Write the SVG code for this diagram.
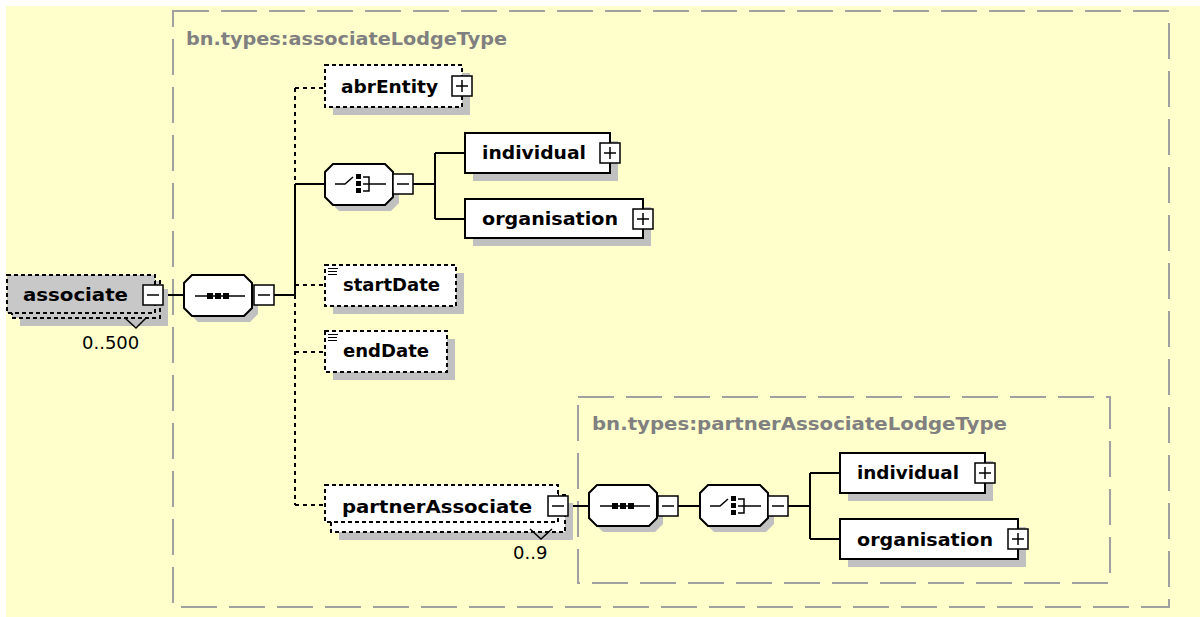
<svg xmlns="http://www.w3.org/2000/svg" width="1200" height="617" viewBox="0 0 1200 617">
<style>
.frame{fill:none;stroke:#A0A0A0;stroke-width:2;stroke-dasharray:36 12}
.title{font-family:"DejaVu Sans",sans-serif;font-weight:bold;font-size:18px;fill:#808080}
.lbl{font-family:"DejaVu Sans",sans-serif;font-weight:bold;font-size:18px;fill:#000}
.occ{font-family:"DejaVu Sans",sans-serif;font-size:18px;fill:#000}
.box{fill:#fff;stroke:#000;stroke-width:2}
.obox{fill:#fff;stroke:#000;stroke-width:2;stroke-dasharray:4 3}
.gbox{fill:#C8C8C8;stroke:#000;stroke-width:2;stroke-dasharray:4 3}
.shadow{fill:#C0C0C0}
.pm{fill:#fff;stroke:#000;stroke-width:1.5}
.pl{stroke:#000;stroke-width:1.5;fill:none}
.ln{stroke:#000;stroke-width:2;fill:none}
.dl{stroke:#000;stroke-width:2;fill:none;stroke-dasharray:4 4}
.oct{fill:#fff;stroke:#000;stroke-width:2}
.ico{fill:#000}
</style>
<defs>
<g id="minus"><rect class="pm" x="0" y="0" width="20" height="20"/><path class="pl" d="M4 10H16"/></g>
<g id="plus"><rect class="pm" x="0" y="0" width="20" height="20"/><path class="pl" d="M4 10H16M10 4V16"/></g>
<path id="octS" d="M8 0H60L68 8V33L60 41H8L0 33V8Z"/>
</defs>
<rect x="0" y="0" width="1200" height="617" fill="#fff"/>
<rect x="6" y="6" width="1194" height="611" fill="#FFFFCC"/>

<g id="frames">
<rect class="frame" x="173" y="11" width="996" height="596"/>
<text class="title" x="186" y="45" textLength="321" lengthAdjust="spacingAndGlyphs">bn.types:associateLodgeType</text>
<rect class="frame" x="578" y="397" width="532" height="186"/>
<text class="title" x="592" y="430" textLength="415" lengthAdjust="spacingAndGlyphs">bn.types:partnerAssociateLodgeType</text>
</g>

<g id="connectors">
<path class="ln" d="M163 295H184"/>
<path class="ln" d="M273 295H295"/>
<path class="dl" d="M295 88V184"/>
<path class="ln" d="M295 184V295"/>
<path class="dl" d="M295 295V505"/>
<path class="dl" d="M295 88H325"/>
<path class="ln" d="M295 184H325"/>
<path class="dl" d="M295 285H325"/>
<path class="dl" d="M295 352H325"/>
<path class="dl" d="M295 505H325"/>
<path class="ln" d="M413 184H435M435 153V219M435 153H465M435 219H465"/>
<path class="ln" d="M568 506H589"/>
<path class="ln" d="M678 506H700"/>
<path class="ln" d="M788 506H810M810 473V539M810 473H840M810 539H840"/>
</g>

<g id="associate">
<rect class="shadow" x="20" y="289" width="148" height="37"/>
<rect class="gbox" x="12" y="281" width="148" height="37"/>
<rect class="gbox" x="7" y="275" width="148" height="38"/>
<text class="lbl" x="23" y="301" textLength="105" lengthAdjust="spacingAndGlyphs">associate</text>
<use href="#minus" x="143" y="285"/>
<path class="pl" d="M125 318L136 328L146 318"/>
<text class="occ" x="82" y="349">0..500</text>
</g>

<g id="sequence1">
<use href="#octS" x="190" y="281" class="shadow"/>
<use href="#octS" x="184" y="275" class="oct"/>
<path class="pl" d="M195 296H245"/>
<rect class="ico" x="207" y="293" width="6" height="6"/>
<rect class="ico" x="215" y="293" width="6" height="6"/>
<rect class="ico" x="223" y="293" width="6" height="6"/>
<use href="#minus" x="254" y="285"/>
</g>

<g id="abrEntity">
<rect class="shadow" x="333" y="73" width="137" height="42"/>
<rect class="obox" x="325" y="65" width="137" height="42"/>
<text class="lbl" x="341" y="93" textLength="97" lengthAdjust="spacingAndGlyphs">abrEntity</text>
<use href="#plus" x="452" y="76"/>
</g>

<g id="choice1">
<use href="#octS" x="331" y="170" class="shadow"/>
<use href="#octS" x="325" y="164" class="oct"/>
<path class="pl" d="M335 184H345L353 177"/>
<rect class="ico" x="356" y="174" width="5" height="5"/>
<rect class="ico" x="356" y="181" width="5" height="5"/>
<rect class="ico" x="356" y="188" width="5" height="5"/>
<path class="pl" d="M363 177H369V191H363M363 184H386"/>
<use href="#minus" x="393" y="174"/>
</g>

<g id="individual1">
<rect class="shadow" x="473" y="141" width="145" height="40"/>
<rect class="box" x="465" y="133" width="145" height="40"/>
<text class="lbl" x="482" y="159" textLength="104" lengthAdjust="spacingAndGlyphs">individual</text>
<use href="#plus" x="600" y="143"/>
</g>

<g id="organisation1">
<rect class="shadow" x="473" y="207" width="178" height="39"/>
<rect class="box" x="465" y="199" width="178" height="39"/>
<text class="lbl" x="482" y="225" textLength="136" lengthAdjust="spacingAndGlyphs">organisation</text>
<use href="#plus" x="633" y="209"/>
</g>

<g id="startDate">
<rect class="shadow" x="333" y="273" width="131" height="41"/>
<rect class="obox" x="325" y="265" width="131" height="41"/>
<path class="pl" style="stroke-width:1" d="M328 268.5H338M328 271.5H337M328 274.5H337"/>
<text class="lbl" x="343" y="291" textLength="97" lengthAdjust="spacingAndGlyphs">startDate</text>
</g>

<g id="endDate">
<rect class="shadow" x="333" y="339" width="122" height="41"/>
<rect class="obox" x="325" y="331" width="122" height="41"/>
<path class="pl" style="stroke-width:1" d="M328 334.5H338M328 337.5H337M328 340.5H337"/>
<text class="lbl" x="343" y="357" textLength="86" lengthAdjust="spacingAndGlyphs">endDate</text>
</g>

<g id="partnerAssociate">
<rect class="shadow" x="339" y="503" width="234" height="37"/>
<rect class="obox" x="331" y="495" width="234" height="37"/>
<rect class="obox" x="325" y="485" width="233" height="37"/>
<text class="lbl" x="342" y="513" textLength="190" lengthAdjust="spacingAndGlyphs">partnerAssociate</text>
<use href="#minus" x="548" y="496"/>
<path class="pl" d="M530 529L541 539L552 529"/>
<text class="occ" x="513" y="559">0..9</text>
</g>

<g id="sequence2">
<use href="#octS" x="595" y="491" class="shadow"/>
<use href="#octS" x="589" y="485" class="oct"/>
<path class="pl" d="M600 506H650"/>
<rect class="ico" x="612" y="503" width="6" height="6"/>
<rect class="ico" x="620" y="503" width="6" height="6"/>
<rect class="ico" x="628" y="503" width="6" height="6"/>
<use href="#minus" x="658" y="496"/>
</g>

<g id="choice2">
<use href="#octS" x="706" y="491" class="shadow"/>
<use href="#octS" x="700" y="485" class="oct"/>
<path class="pl" d="M710 506H720L728 499"/>
<rect class="ico" x="731" y="496" width="5" height="5"/>
<rect class="ico" x="731" y="503" width="5" height="5"/>
<rect class="ico" x="731" y="510" width="5" height="5"/>
<path class="pl" d="M738 499H744V513H738M738 506H761"/>
<use href="#minus" x="768" y="496"/>
</g>

<g id="individual2">
<rect class="shadow" x="848" y="461" width="145" height="40"/>
<rect class="box" x="840" y="453" width="145" height="40"/>
<text class="lbl" x="857" y="479" textLength="102" lengthAdjust="spacingAndGlyphs">individual</text>
<use href="#plus" x="975" y="463"/>
</g>

<g id="organisation2">
<rect class="shadow" x="848" y="527" width="178" height="40"/>
<rect class="box" x="840" y="519" width="178" height="40"/>
<text class="lbl" x="857" y="546" textLength="136" lengthAdjust="spacingAndGlyphs">organisation</text>
<use href="#plus" x="1008" y="529"/>
</g>
</svg>
